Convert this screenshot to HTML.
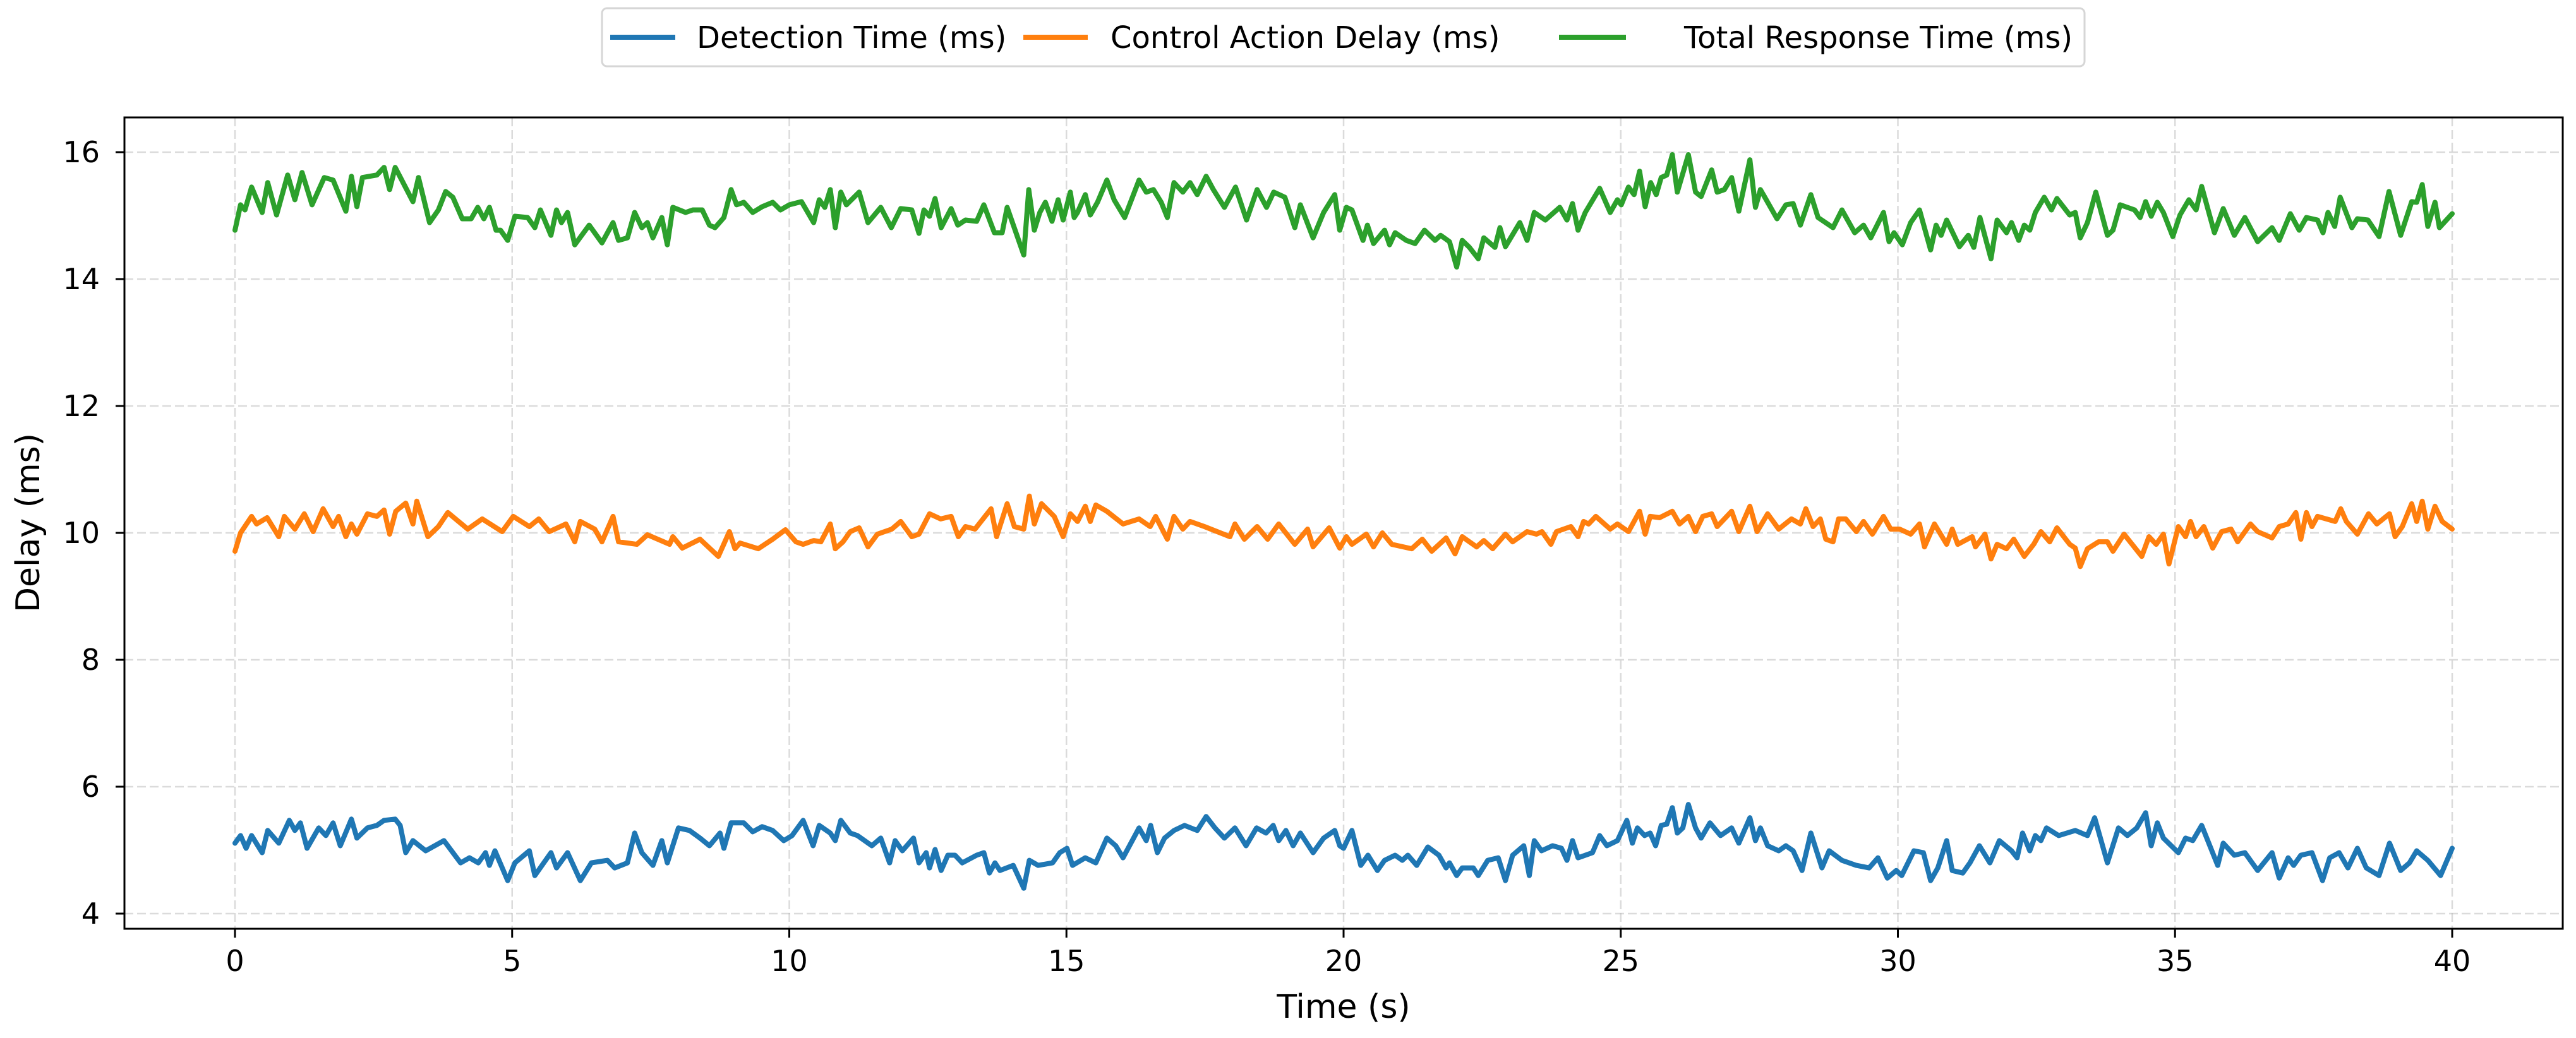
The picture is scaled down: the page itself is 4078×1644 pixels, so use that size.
<!DOCTYPE html>
<html><head><meta charset="utf-8"><style>
html,body{margin:0;padding:0;background:#fff;}
svg{display:block;font-family:"DejaVu Sans","Liberation Sans",sans-serif;}
</style></head><body>
<svg id="chart" width="4078" height="1644" viewBox="0 0 4078 1644" xmlns="http://www.w3.org/2000/svg">
<rect x="0" y="0" width="4078" height="1644" fill="#fff"/>
<g id="grid"></g>
<g id="series"></g>
<rect x="197" y="186" width="3860" height="1285" fill="none" stroke="#000" stroke-width="3"/>
<g id="axes"></g>
<text transform="translate(62,828) rotate(-90)" text-anchor="middle" font-size="52" fill="#000">Delay (ms)</text>
<text x="2127" y="1612" text-anchor="middle" font-size="52" fill="#000">Time (s)</text>
<g>
<rect x="953" y="13" width="2347" height="92" rx="8" fill="#fff" stroke="#d6d6d6" stroke-width="3"/>
<g>
<line x1="966" y1="59" x2="1069" y2="59" stroke="#1f77b4" stroke-width="8"/>
<text x="1103" y="76" font-size="48" fill="#000">Detection Time (ms)</text></g>
<g>
<line x1="1620" y1="59" x2="1722" y2="59" stroke="#ff7f0e" stroke-width="8"/>
<text x="1758" y="76" font-size="48" fill="#000">Control Action Delay (ms)</text></g>
<g>
<line x1="2468" y1="59" x2="2574" y2="59" stroke="#2ca02c" stroke-width="8"/>
<text x="2666" y="76" font-size="48" fill="#000">Total Response Time (ms)</text></g>
</g>
</svg>
<script>
const xTicks=[0,5,10,15,20,25,30,35,40];
const yTicks=[4,6,8,10,12,14,16];
const tBlue=[0,0.1,0.2,0.3,0.49,0.59,0.79,0.98,1.08,1.18,1.3,1.51,1.64,1.77,1.9,2.1,2.2,2.39,2.56,2.69,2.89,2.98,3.08,3.21,3.44,3.77,4.07,4.23,4.39,4.52,4.59,4.69,4.92,5.05,5.31,5.41,5.7,5.8,6.0,6.23,6.43,6.72,6.85,7.08,7.21,7.34,7.54,7.7,7.8,8.0,8.2,8.39,8.56,8.75,8.82,8.95,9.18,9.34,9.51,9.7,9.9,10.05,10.25,10.43,10.54,10.74,10.83,10.93,11.1,11.23,11.49,11.65,11.81,11.91,12.04,12.24,12.34,12.47,12.53,12.63,12.74,12.86,12.99,13.12,13.38,13.51,13.61,13.71,13.8,14.04,14.23,14.33,14.49,14.75,14.88,15.01,15.11,15.34,15.53,15.73,15.89,16.02,16.31,16.44,16.52,16.64,16.77,16.94,17.13,17.36,17.52,17.68,17.85,18.04,18.24,18.43,18.6,18.73,18.83,18.96,19.09,19.22,19.45,19.64,19.84,19.93,20.0,20.15,20.31,20.44,20.61,20.74,20.93,21.06,21.16,21.32,21.52,21.72,21.85,21.91,22.04,22.14,22.34,22.43,22.6,22.79,22.92,23.05,23.25,23.35,23.44,23.57,23.77,23.93,24.03,24.13,24.23,24.49,24.62,24.75,24.94,25.11,25.21,25.3,25.43,25.53,25.63,25.73,25.83,25.93,26.02,26.12,26.22,26.35,26.45,26.61,26.8,27.0,27.13,27.33,27.43,27.52,27.65,27.85,27.98,28.11,28.27,28.43,28.63,28.76,28.99,29.25,29.48,29.64,29.81,29.97,30.07,30.29,30.46,30.59,30.72,30.88,30.98,31.17,31.3,31.47,31.66,31.83,32.05,32.15,32.25,32.38,32.48,32.58,32.68,32.9,33.2,33.42,33.55,33.78,33.98,34.14,34.31,34.47,34.57,34.68,34.79,35.06,35.19,35.32,35.48,35.77,35.87,36.07,36.26,36.49,36.75,36.88,37.04,37.14,37.27,37.47,37.66,37.79,37.96,38.12,38.29,38.45,38.68,38.87,39.07,39.23,39.36,39.56,39.79,40.0];
const vBlue=[5.11,5.23,5.03,5.23,4.96,5.31,5.11,5.47,5.31,5.43,5.03,5.35,5.23,5.43,5.07,5.49,5.19,5.35,5.39,5.47,5.49,5.39,4.96,5.15,4.99,5.15,4.8,4.88,4.8,4.96,4.76,4.99,4.52,4.8,4.99,4.6,4.96,4.72,4.96,4.52,4.8,4.84,4.72,4.8,5.27,4.96,4.76,5.15,4.8,5.35,5.31,5.19,5.07,5.27,5.03,5.43,5.43,5.29,5.37,5.31,5.15,5.23,5.47,5.07,5.39,5.27,5.15,5.47,5.27,5.23,5.07,5.19,4.8,5.15,4.99,5.19,4.8,4.96,4.72,5.01,4.68,4.92,4.92,4.8,4.92,4.96,4.64,4.8,4.68,4.76,4.4,4.84,4.76,4.8,4.96,5.03,4.76,4.88,4.8,5.19,5.07,4.88,5.35,5.15,5.39,4.96,5.19,5.31,5.39,5.31,5.53,5.35,5.19,5.35,5.07,5.35,5.27,5.39,5.15,5.31,5.07,5.27,4.96,5.19,5.31,5.07,5.03,5.31,4.76,4.92,4.68,4.84,4.92,4.84,4.92,4.76,5.05,4.92,4.72,4.8,4.6,4.72,4.72,4.6,4.84,4.88,4.52,4.92,5.07,4.6,5.15,4.99,5.07,5.03,4.84,5.15,4.88,4.96,5.23,5.07,5.15,5.47,5.11,5.35,5.23,5.27,5.07,5.39,5.41,5.67,5.27,5.35,5.72,5.35,5.19,5.43,5.23,5.35,5.11,5.51,5.15,5.35,5.07,4.99,5.07,4.99,4.68,5.27,4.72,4.99,4.84,4.76,4.72,4.88,4.56,4.68,4.6,4.99,4.96,4.52,4.72,5.15,4.68,4.64,4.8,5.07,4.8,5.15,4.99,4.88,5.27,4.99,5.23,5.15,5.35,5.23,5.31,5.23,5.51,4.8,5.35,5.23,5.35,5.59,5.07,5.43,5.19,4.96,5.19,5.15,5.39,4.76,5.11,4.92,4.96,4.68,4.96,4.56,4.88,4.76,4.92,4.96,4.52,4.88,4.96,4.72,5.03,4.72,4.6,5.11,4.68,4.8,4.99,4.84,4.6,5.03];
const tOrange=[0,0.1,0.3,0.39,0.58,0.79,0.89,1.08,1.25,1.41,1.59,1.77,1.87,2.0,2.1,2.2,2.39,2.56,2.69,2.79,2.9,3.08,3.21,3.28,3.48,3.67,3.84,4.2,4.46,4.82,5.02,5.31,5.48,5.67,5.97,6.13,6.23,6.49,6.62,6.82,6.92,7.25,7.44,7.84,7.9,8.07,8.39,8.72,8.92,9.02,9.11,9.44,9.7,9.93,10.12,10.25,10.44,10.57,10.74,10.83,10.97,11.1,11.26,11.42,11.59,11.85,12.01,12.21,12.34,12.53,12.73,12.92,13.05,13.18,13.35,13.64,13.74,13.93,14.06,14.23,14.33,14.42,14.55,14.78,14.94,15.07,15.2,15.34,15.43,15.53,15.73,16.02,16.31,16.51,16.61,16.82,16.94,17.1,17.23,17.49,17.95,18.04,18.21,18.44,18.63,18.83,19.12,19.35,19.45,19.74,19.93,20.05,20.15,20.41,20.54,20.7,20.87,21.23,21.42,21.59,21.85,22.01,22.14,22.27,22.4,22.53,22.69,22.92,23.05,23.31,23.48,23.58,23.74,23.84,24.1,24.23,24.33,24.42,24.55,24.81,24.94,25.14,25.34,25.44,25.53,25.7,25.93,26.06,26.22,26.35,26.48,26.64,26.74,27.0,27.13,27.33,27.46,27.65,27.85,28.08,28.24,28.34,28.47,28.6,28.7,28.83,28.93,29.06,29.25,29.38,29.54,29.74,29.87,30.03,30.23,30.39,30.48,30.66,30.88,30.98,31.08,31.34,31.4,31.57,31.68,31.79,31.96,32.09,32.28,32.45,32.58,32.74,32.87,33.1,33.2,33.29,33.42,33.62,33.78,33.88,34.08,34.4,34.53,34.66,34.79,34.89,35.06,35.19,35.28,35.38,35.52,35.68,35.84,36.01,36.13,36.36,36.49,36.75,36.88,37.04,37.18,37.27,37.37,37.47,37.57,37.89,37.99,38.09,38.29,38.49,38.64,38.87,38.97,39.1,39.27,39.36,39.46,39.56,39.69,39.82,40.0];
const vOrange=[9.71,10.0,10.26,10.14,10.24,9.94,10.26,10.06,10.3,10.02,10.38,10.1,10.26,9.94,10.14,9.98,10.3,10.26,10.36,9.98,10.34,10.47,10.14,10.5,9.94,10.1,10.32,10.06,10.22,10.02,10.26,10.1,10.22,10.02,10.14,9.86,10.18,10.06,9.86,10.26,9.86,9.82,9.97,9.82,9.94,9.76,9.9,9.63,10.02,9.75,9.84,9.75,9.9,10.05,9.86,9.82,9.88,9.86,10.14,9.75,9.86,10.02,10.08,9.78,9.98,10.06,10.18,9.94,9.98,10.3,10.22,10.26,9.94,10.1,10.06,10.38,9.94,10.46,10.1,10.06,10.58,10.14,10.46,10.26,9.94,10.3,10.18,10.42,10.18,10.44,10.34,10.14,10.22,10.1,10.26,9.9,10.26,10.06,10.18,10.1,9.94,10.14,9.9,10.1,9.9,10.14,9.82,10.06,9.78,10.08,9.76,9.94,9.82,9.98,9.78,10.0,9.82,9.75,9.9,9.71,9.92,9.67,9.94,9.86,9.78,9.88,9.75,9.98,9.86,10.02,9.98,10.02,9.82,10.02,10.1,9.94,10.18,10.14,10.26,10.06,10.14,10.02,10.34,9.98,10.26,10.24,10.34,10.14,10.26,10.02,10.26,10.3,10.1,10.34,10.02,10.42,10.02,10.3,10.06,10.22,10.14,10.38,10.1,10.22,9.9,9.86,10.22,10.22,10.02,10.18,9.98,10.26,10.06,10.06,9.98,10.14,9.78,10.14,9.82,10.06,9.82,9.94,9.78,9.98,9.59,9.82,9.75,9.9,9.63,9.82,10.02,9.86,10.08,9.82,9.76,9.47,9.75,9.86,9.86,9.71,9.98,9.63,9.94,9.82,9.98,9.51,10.1,9.94,10.18,9.94,10.1,9.76,10.02,10.06,9.86,10.14,10.02,9.92,10.1,10.14,10.32,9.9,10.32,10.1,10.26,10.18,10.38,10.18,9.98,10.3,10.14,10.3,9.94,10.1,10.46,10.18,10.5,10.06,10.42,10.18,10.06];
const tGreen=[0,0.1,0.18,0.3,0.49,0.59,0.75,0.95,1.08,1.21,1.39,1.61,1.77,2.0,2.1,2.2,2.3,2.56,2.69,2.79,2.89,3.21,3.31,3.51,3.67,3.8,3.93,4.1,4.26,4.38,4.49,4.59,4.71,4.79,4.92,5.05,5.28,5.41,5.51,5.7,5.8,5.89,6.0,6.13,6.39,6.62,6.82,6.92,7.08,7.21,7.34,7.44,7.54,7.7,7.8,7.9,8.13,8.26,8.43,8.56,8.66,8.82,8.95,9.05,9.18,9.34,9.51,9.7,9.84,10.0,10.22,10.44,10.54,10.64,10.74,10.83,10.93,11.03,11.26,11.42,11.65,11.84,12.01,12.21,12.34,12.43,12.53,12.63,12.74,12.92,13.04,13.18,13.38,13.51,13.7,13.84,13.93,14.23,14.32,14.42,14.52,14.62,14.74,14.85,14.94,15.07,15.14,15.2,15.34,15.43,15.56,15.73,15.86,16.05,16.31,16.44,16.57,16.71,16.82,16.94,17.1,17.23,17.36,17.52,17.65,17.85,18.05,18.25,18.44,18.61,18.74,18.94,19.12,19.22,19.45,19.64,19.84,19.93,20.05,20.15,20.35,20.43,20.54,20.74,20.83,20.93,21.13,21.29,21.46,21.65,21.75,21.91,22.04,22.14,22.27,22.43,22.53,22.73,22.82,22.92,23.18,23.31,23.44,23.64,23.9,24.03,24.13,24.23,24.36,24.62,24.81,24.94,25.01,25.14,25.24,25.34,25.44,25.54,25.64,25.73,25.83,25.93,26.02,26.22,26.35,26.45,26.64,26.74,26.87,27.0,27.13,27.33,27.43,27.52,27.82,27.98,28.11,28.24,28.43,28.56,28.83,28.99,29.22,29.38,29.51,29.74,29.84,29.93,30.08,30.23,30.39,30.59,30.69,30.78,30.88,31.11,31.27,31.37,31.48,31.68,31.79,31.96,32.05,32.18,32.28,32.38,32.48,32.64,32.77,32.87,33.1,33.2,33.29,33.42,33.57,33.78,33.88,34.01,34.27,34.37,34.47,34.57,34.68,34.79,34.96,35.09,35.25,35.38,35.48,35.71,35.87,36.07,36.26,36.49,36.75,36.88,37.08,37.24,37.37,37.57,37.67,37.76,37.88,37.98,38.19,38.29,38.48,38.68,38.86,39.07,39.27,39.36,39.46,39.56,39.69,39.77,40.0];
const vGreen=[14.77,15.17,15.09,15.45,15.05,15.52,15.01,15.64,15.25,15.68,15.17,15.6,15.56,15.07,15.62,15.14,15.6,15.64,15.76,15.41,15.76,15.22,15.6,14.89,15.09,15.38,15.29,14.95,14.95,15.13,14.95,15.13,14.77,14.77,14.61,14.99,14.97,14.81,15.09,14.69,15.09,14.89,15.05,14.54,14.85,14.57,14.89,14.61,14.65,15.05,14.81,14.89,14.65,14.97,14.54,15.13,15.05,15.09,15.09,14.85,14.81,14.97,15.41,15.17,15.21,15.05,15.14,15.21,15.09,15.17,15.22,14.89,15.25,15.13,15.41,14.81,15.37,15.17,15.37,14.89,15.13,14.81,15.11,15.09,14.72,15.09,14.99,15.27,14.81,15.11,14.85,14.93,14.91,15.17,14.73,14.73,15.13,14.38,15.41,14.77,15.05,15.21,14.91,15.25,14.93,15.37,14.97,15.05,15.33,15.01,15.21,15.56,15.25,14.97,15.56,15.37,15.41,15.21,14.97,15.52,15.37,15.52,15.33,15.62,15.41,15.13,15.45,14.93,15.41,15.13,15.37,15.29,14.81,15.17,14.65,15.05,15.33,14.77,15.13,15.09,14.61,14.85,14.56,14.77,14.54,14.73,14.61,14.56,14.77,14.61,14.69,14.59,14.19,14.61,14.5,14.32,14.65,14.5,14.81,14.51,14.89,14.61,15.05,14.93,15.13,14.93,15.19,14.77,15.05,15.43,15.05,15.25,15.17,15.45,15.33,15.7,15.14,15.52,15.33,15.6,15.64,15.96,15.37,15.96,15.37,15.3,15.72,15.37,15.41,15.6,15.07,15.88,15.13,15.41,14.95,15.17,15.19,14.85,15.33,14.97,14.81,15.09,14.73,14.85,14.65,15.05,14.59,14.73,14.54,14.89,15.09,14.46,14.85,14.69,14.93,14.51,14.69,14.5,14.97,14.32,14.93,14.73,14.89,14.61,14.85,14.77,15.05,15.29,15.09,15.27,15.01,15.05,14.65,14.89,15.37,14.69,14.77,15.17,15.09,14.97,15.22,14.99,15.21,15.05,14.67,15.01,15.25,15.09,15.46,14.73,15.11,14.69,14.97,14.59,14.81,14.61,15.03,14.77,14.97,14.93,14.73,15.05,14.83,15.29,14.81,14.95,14.93,14.67,15.38,14.69,15.22,15.21,15.49,14.83,15.21,14.81,15.03];

const NS='http://www.w3.org/2000/svg';
const X0=372, XS=87.75, Y16=241, YS=100.5;
function xScale(t){return X0+t*XS;}
function yScale(v){return Y16+(16-v)*YS;}
const grid=document.getElementById('grid');
const axes=document.getElementById('axes');
const series=document.getElementById('series');
function mk(tag,attrs,parent){const e=document.createElementNS(NS,tag);for(const k in attrs)e.setAttribute(k,attrs[k]);parent.appendChild(e);return e;}
xTicks.forEach(t=>{
  const x=xScale(t);
  const g=mk('line',{x1:x,y1:186,x2:x,y2:1471,stroke:'#b0b0b0','stroke-opacity':0.45,'stroke-width':2.5,'stroke-dasharray':'14,6'},grid);
  
  
  const tk=mk('line',{x1:x,y1:1471,x2:x,y2:1485,stroke:'#000','stroke-width':3},axes);
  
  
  const lb=mk('text',{x:x,y:1538,'text-anchor':'middle','font-size':46,fill:'#000'},axes);
  lb.textContent=String(t);
  
  
});
yTicks.forEach(v=>{
  const y=yScale(v);
  const g=mk('line',{x1:197,y1:y,x2:4057,y2:y,stroke:'#b0b0b0','stroke-opacity':0.45,'stroke-width':2.5,'stroke-dasharray':'14,6'},grid);
  
  
  const tk=mk('line',{x1:183,y1:y,x2:197,y2:y,stroke:'#000','stroke-width':3},axes);
  
  
  const lb=mk('text',{x:158,y:y+16,'text-anchor':'end','font-size':46,fill:'#000'},axes);
  lb.textContent=String(v);
  
  
});
function drawLine(ts,vs,color,name){
  let d='';
  for(let i=0;i<ts.length;i++){d+=(i?'L':'M')+xScale(ts[i]).toFixed(1)+','+yScale(vs[i]).toFixed(1);}
  const p=mk('path',{d:d,fill:'none',stroke:color,'stroke-width':8,'stroke-linejoin':'round','stroke-linecap':'round'},series);
  
  
}
drawLine(tBlue,vBlue,'#1f77b4','detection-time-line');
drawLine(tOrange,vOrange,'#ff7f0e','control-action-delay-line');
drawLine(tGreen,vGreen,'#2ca02c','total-response-time-line');
</script>
</body></html>
